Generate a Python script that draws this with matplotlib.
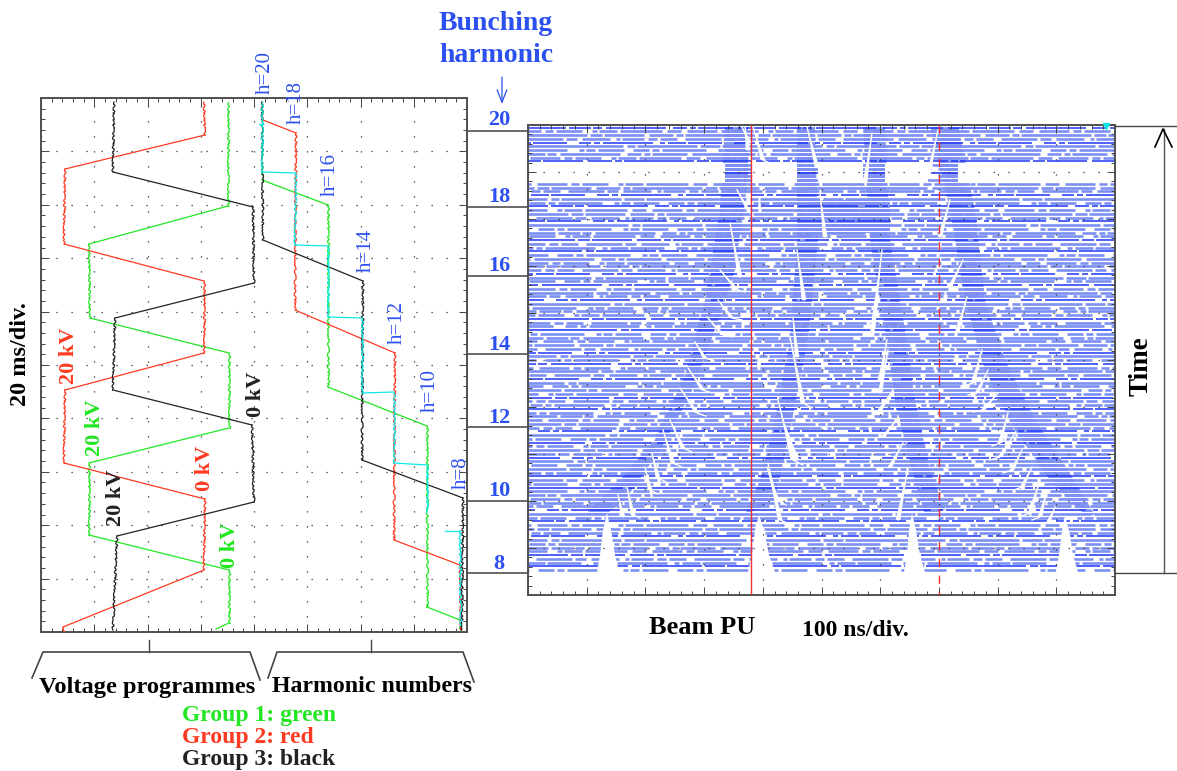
from matplotlib import pyplot as plt
from matplotlib.collections import LineCollection
from matplotlib.path import Path
import numpy as np

plt.rcParams['font.family'] = ['Liberation Serif', 'DejaVu Serif']

GREEN = '#22e622'
RED = '#ff3a22'
BLACK = '#222222'
CYAN = '#10e8e8'
BLUE = '#2c50f0'
ROW_LIGHT = '#7c8ff3'
ROW_DARK = '#1f36f6'

volt_green = [(228, 102), (228, 206), (89, 244), (90, 318), (229, 353), (229, 428), (89, 463),
              (89, 535), (229, 570), (229, 623), (216, 629)]
volt_red = [(204, 102), (205, 135), (65, 169), (64, 244), (204, 281), (204, 353), (65, 390),
            (64, 463), (205, 499), (204, 570), (63, 627), (63, 631)]
volt_black = [(114, 102), (113, 172), (253, 207), (254, 283), (115, 318), (113, 390), (252, 425),
              (254, 502), (117, 536), (113, 630)]
harm_green = [(262, 102), (262, 180), (328, 205), (328, 387), (427, 426), (427, 607), (460, 620),
              (460, 630)]
harm_red = [(262, 102), (263, 120), (296, 133), (295, 310), (395, 353), (394, 540), (460, 565),
            (461, 630)]
harm_black = [(262, 102), (263, 240), (363, 281), (362, 460), (463, 498), (462, 630)]
harm_cyan = [[(259, 124), (262, 124)],
             [(262, 102), (262, 172), (296, 173), (295, 245), (328, 246), (328, 317), (362, 318),
              (362, 393), (394, 392), (394, 463), (427, 465), (427, 512)],
             [(445, 531), (460, 531), (461, 626)],
             [(55, 633), (71, 633)]]

harmonic_labels = ['20', '18', '16', '14', '12', '10', '8']
harmonic_line_y = [131, 207, 276, 354, 427, 501, 573]
harmonic_label_y = [120, 197, 266, 345, 418, 491, 564]

h_labels = ['h=20', 'h=18', 'h=16', 'h=14', 'h=12', 'h=10', 'h=8']
h_label_x = [265, 296, 330, 366, 397, 430, 461]
h_label_y = [72, 103, 174, 250, 322, 390, 473]

kv_labels = ['20 kV', '20 kV', '20 kV', '0 kV', '0 kV', '0 kV']
kv_colors = [RED, GREEN, BLACK, RED, BLACK, GREEN]
kv_x = [69, 95, 116, 205, 256, 230]
kv_y = [356, 428, 498, 468, 394, 545]

# texture of the pick-up rows: on/off lengths, and where each row starts in them
dash_patterns = [(38, 3, 22, 2, 9, 4, 60, 7, 14, 3, 6, 2, 35, 5),
                 (14, 6, 30, 4, 8, 3, 26, 10, 5, 2, 18, 3, 42, 5),
                 (70, 3, 12, 2, 40, 5, 24, 3, 7, 2),
                 (22, 4, 9, 3, 17, 8, 36, 3, 11, 5, 28, 6, 4, 2),
                 (5, 3, 18, 2, 34, 12, 12, 3, 6, 3, 50, 7),
                 (100, 4, 8, 2, 60, 3, 20, 2),
                 (9, 3, 26, 9, 16, 3, 7, 3, 44, 12, 5, 2)]
row_starts = [0, 37, 11, 64, 23, 5, 81, 46, 18, 72, 30, 55, 9]
row_dark = [1, 0, 0, 0, 1, 0, 0, 0, 0, 1, 0, 0, 1, 0, 0, 0, 0, 0, 1, 0, 0]

# beam-free stretches of the rows
white_band = [(528, 725), (752, 797), (818, 863), (885, 928), (958, 1115)]
white_band_y = (164, 183)

peak_1 = [(597, 572), (600, 555), (603, 530), (607, 513), (611, 530), (615, 555), (619, 572)]
peak_2 = [(748, 572), (752, 555), (755, 530), (759, 515), (764, 530), (769, 555), (775, 572)]
peak_3 = [(904, 572), (907, 555), (909, 530), (912, 513), (916, 530), (920, 555), (925, 572)]
peak_4 = [(1056, 572), (1059, 555), (1062, 530), (1065, 515), (1070, 535), (1073, 555), (1078, 572)]

# where the rows fill in solid
dense_1 = [(585, 515), (620, 480), (655, 440), (685, 375), (705, 300), (720, 210), (725, 125),
           (748, 125), (748, 180), (735, 270), (715, 330), (690, 395), (660, 450), (625, 500),
           (605, 515)]
dense_2 = [(745, 515), (760, 480), (775, 420), (790, 340), (797, 240), (797, 125), (815, 125),
           (818, 240), (808, 340), (790, 430), (775, 500)]
dense_3 = [(925, 515), (912, 470), (895, 400), (885, 330), (870, 240), (863, 125), (885, 125),
           (890, 240), (905, 330), (915, 400), (930, 470), (945, 510)]
dense_4 = [(1085, 515), (1050, 480), (1015, 430), (985, 370), (965, 300), (950, 210), (930, 125),
           (958, 125), (975, 210), (985, 300), (1005, 360), (1035, 420), (1065, 465), (1095, 515)]
dense_5 = [(800, 200), (890, 200), (890, 233), (800, 233)]

# white streaks of the filamenting bunches, top end first
fan_1 = [[(618, 495), (623, 517)], [(627, 487), (633, 515), (640, 518)], [(645, 467), (650, 490), (658, 494)],
         [(652, 453), (658, 478), (666, 482)], [(663, 430), (673, 463), (682, 467)],
         [(670, 420), (683, 448), (692, 452)], [(680, 388), (697, 413), (706, 416)],
         [(688, 368), (703, 390), (712, 393)], [(695, 342), (705, 358), (714, 361)],
         [(707, 317), (723, 335), (732, 337)], [(718, 300), (732, 318), (742, 320)],
         [(720, 270), (737, 290), (745, 292)], [(730, 223), (740, 277)], [(737, 190), (750, 213)],
         [(742, 127), (750, 143)], [(745, 127), (748, 150)]]
fan_2 = [[(767, 467), (777, 500), (786, 505)], [(768, 463), (780, 520), (790, 524)],
         [(778, 400), (793, 460), (803, 465)], [(783, 420), (797, 460)],
         [(790, 337), (803, 403), (812, 408)], [(793, 317), (797, 357)],
         [(797, 250), (804, 300)], [(753, 127), (763, 160), (772, 164)]]
fan_3 = [[(907, 473), (898, 520)], [(903, 443), (890, 467)], [(898, 418), (883, 437)],
         [(893, 390), (880, 410)], [(888, 350), (880, 393)], [(887, 340), (880, 380)],
         [(878, 300), (872, 333)], [(882, 250), (873, 327)], [(872, 133), (865, 183)],
         [(807, 127), (817, 167)], [(820, 193), (825, 237)]]
fan_4 = [[(1055, 507), (1048, 523)], [(1047, 490), (1040, 517), (1032, 520)],
         [(1040, 480), (1030, 513), (1022, 516)], [(1032, 467), (1022, 487), (1014, 490)],
         [(1022, 450), (1012, 470), (1003, 473)], [(1015, 433), (1000, 457), (990, 460)],
         [(1008, 413), (1000, 443), (992, 446)], [(998, 393), (983, 410), (973, 412)],
         [(988, 370), (977, 393), (968, 395)], [(982, 350), (973, 383), (964, 386)],
         [(967, 297), (957, 333)], [(963, 260), (950, 287)], [(950, 200), (940, 237)],
         [(938, 130), (928, 177)]]


def add_axes(x0, x1, y0, y1):
    ax = fig.add_axes([x0 / 1177, 1 - y1 / 771, (x1 - x0) / 1177, (y1 - y0) / 771])
    ax.set_xlim(x0, x1)
    ax.set_ylim(y1, y0)
    return ax


def graticule(ax, x0, x1, nx, y0, y1, ny):
    ax.set_xticks(np.linspace(x0, x1, nx + 1))
    ax.set_yticks(np.linspace(y0, y1, ny + 1))
    ax.set_xticks(np.linspace(x0, x1, nx * 5 + 1), minor=True)
    ax.set_yticks(np.linspace(y0, y1, ny * 5 + 1), minor=True)
    ax.tick_params(which='major', direction='in', length=6, width=0.7, color='#444444',
                   top=True, right=True, labelbottom=False, labelleft=False)
    ax.tick_params(which='minor', direction='in', length=3, width=0.7, color='#444444',
                   top=True, right=True)
    ax.grid(True, which='major', color='#333333', lw=0.9, ls=(0, (1, 11)))
    for s in ax.spines.values():
        s.set_linewidth(1.4)
        s.set_color('#505050')


def trace(ax, pts, color):
    # the flat tops of the programmes are noisy, the ramps are clean
    for (xa, ya), (xb, yb) in zip(pts[:-1], pts[1:]):
        line, = ax.plot([xa, xb], [ya, yb], color=color, lw=0.9, zorder=3)
        if abs(xb - xa) < 5:
            line.set_sketch_params(scale=1.0, length=5, randomness=5)


def row_segments(y, pattern, start):
    segs = []
    x = 528 - start
    i = 0
    while x < 1115:
        on = pattern[i % len(pattern)]
        off = pattern[(i + 1) % len(pattern)]
        if x + on > 528:
            segs.append([(max(x, 528), y), (min(x + on, 1115), y)])
        x += on + off
        i += 2
    return segs


def streak(ax, pts):
    # a streak is a hair at its top and opens up to a few pixels at the bottom
    (xa, ya), (xb, yb) = pts[0], pts[1]
    ax.fill([xa, xb - 2.4, xb + 2.4], [ya, yb, yb], color='white', lw=0, zorder=1.6)
    ax.plot([a[0] for a in pts], [a[1] for a in pts], color='white', lw=1.0, zorder=1.6)


fig = plt.figure(figsize=(11.77, 7.71), dpi=100)

# left scope picture
ax_left = add_axes(41, 467, 98, 632)
graticule(ax_left, 41, 467, 8, 98, 632, 10)
for pts, c in [(volt_green, GREEN), (volt_red, RED), (volt_black, BLACK),
               (harm_green, GREEN), (harm_red, RED), (harm_black, BLACK)]:
    trace(ax_left, pts, c)
for pts in harm_cyan:
    trace(ax_left, pts, CYAN)
for t, c, x, y in zip(kv_labels, kv_colors, kv_x, kv_y):
    ax_left.text(x, y, t, color=c, rotation=90, fontsize=16, fontweight='bold', ha='center', va='center',
                 zorder=5)
for t, x, y in zip(h_labels, h_label_x, h_label_y):
    ax_left.text(x, y, t, color=BLUE, rotation=90, fontsize=15, ha='center', va='center',
                 clip_on=False, zorder=5)

# right scope picture, mountain range of the pick-up signal
ax_right = add_axes(528, 1115, 125, 595)
graticule(ax_right, 528, 1115, 10, 125, 595, 10)

light_rows = []
dark_rows = []
solid_rows = []
row_y = np.arange(127.5, 572.5, 3.75)
for i, y in enumerate(row_y):
    segs = row_segments(y, dash_patterns[i % len(dash_patterns)], row_starts[i % len(row_starts)])
    if row_dark[i % len(row_dark)]:
        dark_rows += segs
    else:
        light_rows += segs
    solid_rows.append([(528, y), (1115, y)])

ax_right.add_collection(LineCollection(light_rows, colors=ROW_LIGHT, linewidths=1.9, zorder=1))
ax_right.add_collection(LineCollection(dark_rows, colors=ROW_DARK, linewidths=1.1, zorder=1.1))

solid = LineCollection(solid_rows, colors=ROW_LIGHT, linewidths=2.0, zorder=1.05)
ax_right.add_collection(solid)
dense_path = Path.make_compound_path(*[Path(p + [p[0]]) for p in [dense_1, dense_2, dense_3, dense_4, dense_5]])
solid.set_clip_path(dense_path, ax_right.transData)

for xa, xb in white_band:
    ax_right.fill_between([xa, xb], white_band_y[0], white_band_y[1], color='white', lw=0, zorder=1.5)
for p in [peak_1, peak_2, peak_3, peak_4]:
    ax_right.fill([a[0] for a in p], [a[1] for a in p], color='white', lw=0, zorder=1.5)
for fan in [fan_1, fan_2, fan_3, fan_4]:
    for pts in fan:
        streak(ax_right, pts)

ax_right.plot([751, 751], [125, 595], color='#f03030', lw=1.0, zorder=4)
ax_right.plot([939, 939], [125, 595], color='#f03030', lw=1.0, ls=(0, (6, 6)), zorder=4)
ax_right.plot([1106], [125.5], marker='v', ms=5, color=CYAN, clip_on=False, zorder=5)

# page level annotations
ax_page = add_axes(0, 1177, 0, 771)
ax_page.axis('off')
ax_page.patch.set_alpha(0)

for y in harmonic_line_y:
    ax_page.plot([467, 528], [y, y], color='#505050', lw=1.2)
for t, y in zip(harmonic_labels, harmonic_label_y):
    ax_page.text(499, y, t, color=BLUE, fontsize=16, fontweight='bold', ha='center', va='center')

ax_page.text(496, 24, 'Bunching', color=BLUE, fontsize=20, fontweight='bold', ha='center', va='center')
ax_page.text(496, 56, 'harmonic', color=BLUE, fontsize=20, fontweight='bold', ha='center', va='center')
ax_page.annotate('', xy=(502, 104), xytext=(502, 77),
                 arrowprops=dict(arrowstyle='->,head_length=0.9,head_width=0.35', color=BLUE, lw=0.9,
                                 shrinkA=0, shrinkB=0))

ax_page.text(21, 354, '20 ms/div.', rotation=90, fontsize=17.5, fontweight='bold', ha='center', va='center')

# braces below the left scope
brace_voltage = [(32, 678), (43, 652), (250, 652), (260, 680)]
brace_harmonic = [(268, 678), (277, 652), (463, 652), (474, 682)]
for pts in [brace_voltage, brace_harmonic]:
    ax_page.plot([a[0] for a in pts], [a[1] for a in pts], color='#444444', lw=1.2)
ax_page.plot([149, 149], [640, 652], color='#444444', lw=1.0)
ax_page.plot([371, 371], [640, 652], color='#444444', lw=1.0)

ax_page.text(147, 687, 'Voltage programmes', fontsize=17.6, fontweight='bold', ha='center', va='center')
ax_page.text(372, 687, 'Harmonic numbers', fontsize=17.2, fontweight='bold', ha='center', va='center')
ax_page.text(182, 715, 'Group 1: green', color=GREEN, fontsize=17, fontweight='bold', va='center')
ax_page.text(182, 737, 'Group 2: red', color=RED, fontsize=17, fontweight='bold', va='center')
ax_page.text(182, 759, 'Group 3: black', color=BLACK, fontsize=17, fontweight='bold', va='center')

ax_page.text(702, 628, 'Beam PU', fontsize=19, fontweight='bold', ha='center', va='center')
ax_page.text(855, 630, '100 ns/div.', fontsize=17, fontweight='bold', ha='center', va='center')

# time arrow on the right
ax_page.plot([1115, 1177], [126, 126], color='#444444', lw=1.0)
ax_page.plot([1115, 1177], [573, 573], color='#444444', lw=1.0)
ax_page.plot([1164, 1164], [573, 129], color='#555555', lw=1.0)
ax_page.plot([1155, 1163, 1172], [147, 129, 147], color='black', lw=1.2)
ax_page.text(1141, 366, 'Time', rotation=90, fontsize=19.5, fontweight='bold', ha='center', va='center')

plt.savefig('out.png', dpi=100)
